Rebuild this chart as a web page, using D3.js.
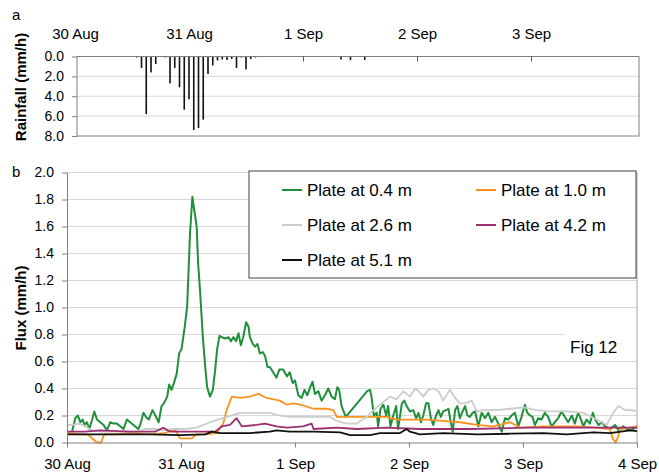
<!DOCTYPE html>
<html>
<head>
<meta charset="utf-8">
<script src="https://cdn.jsdelivr.net/npm/d3@7"></script>
<style>
  body { margin: 0; background: #fff; }
  text { font-family: Arial, "Liberation Sans", sans-serif; fill: #000; }
</style>
</head>
<body>
<div id="chart"></div>
<script>

// day ticks shared by both panels
var dayLabels = ["30 Aug", "31 Aug", "1 Sep", "2 Sep", "3 Sep", "4 Sep"];
var rainTicks = [0, 2, 4, 6, 8];
var fluxTicks = [0, 0.2, 0.4, 0.6, 0.8, 1.0, 1.2, 1.4, 1.6, 1.8, 2.0];

// hourly rainfall, [hours after 30 Aug 00:00, mm/h]
var rainfall = [
    [8, 0.05], [9, 0.05], [10, 0.05], [11, 0.05], [13, 0.1], [14, 1.15], [15, 5.8],
    [16, 1.6], [17, 0.75], [19, 0.1], [20, 2.7], [21, 1.15], [22, 3.1], [23, 5.35],
    [24, 4.3], [25, 7.4], [26, 7.2], [27, 6.35], [28, 1.75], [29, 0.9], [30, 0.4],
    [31, 0.3], [32, 0.35], [33, 0.25], [34, 1.15], [35, 0.1], [36, 1.3], [37, 0.25],
    [38, 0.1], [54, 0.05], [56, 0.3], [58, 0.35], [60, 0.05], [61, 0.35]
];

// drainage flux per plate, [hours after 30 Aug 00:00, mm/h]
var plate04 = [
    [1.05, 0.08], [1.75, 0.18], [2.3, 0.20], [2.8, 0.15], [3.3, 0.17], [3.7, 0.13], [4.2, 0.15],
    [4.7, 0.10], [5.3, 0.17], [5.75, 0.23], [6.3, 0.17], [7.0, 0.15], [7.7, 0.13], [8.4, 0.09],
    [9.1, 0.15], [9.8, 0.14], [10.5, 0.14], [11.2, 0.12], [11.9, 0.10], [12.6, 0.17], [13.3, 0.15],
    [14.0, 0.13], [15.0, 0.10], [15.4, 0.13], [16.1, 0.22], [16.6, 0.19], [17.2, 0.17], [18.0, 0.24],
    [18.6, 0.20], [19.3, 0.15], [19.9, 0.27], [20.4, 0.29], [21.1, 0.34], [21.5, 0.43], [22.0, 0.39],
    [22.5, 0.44], [23.1, 0.51], [23.6, 0.66], [24.1, 0.69], [24.8, 0.86], [25.3, 1.01], [25.9, 1.55],
    [26.4, 1.82], [26.8, 1.72], [27.3, 1.60], [27.6, 1.33], [28.0, 1.13], [28.6, 0.78], [29.1, 0.56],
    [29.5, 0.41], [30.1, 0.34], [30.7, 0.39], [31.2, 0.54], [31.6, 0.69], [32.1, 0.79], [32.6, 0.78],
    [33.3, 0.77], [34.0, 0.78], [34.5, 0.75], [35.0, 0.78], [35.6, 0.75], [36.1, 0.81], [36.6, 0.72],
    [37.1, 0.78], [37.7, 0.89], [38.2, 0.86], [38.5, 0.78], [39.1, 0.73], [39.6, 0.71], [40.1, 0.73],
    [40.6, 0.66], [41.2, 0.67], [41.7, 0.64], [42.2, 0.56], [42.7, 0.56], [43.4, 0.52], [44.1, 0.48],
    [44.7, 0.54], [45.5, 0.54], [46.3, 0.49], [46.9, 0.52], [47.5, 0.44], [48.0, 0.46], [48.7, 0.35],
    [49.4, 0.33], [50.0, 0.39], [50.6, 0.35], [51.2, 0.41], [51.7, 0.45], [52.2, 0.36], [52.9, 0.38],
    [53.6, 0.31], [54.3, 0.35], [55.0, 0.40], [55.7, 0.34], [56.4, 0.32], [56.9, 0.41], [57.3, 0.39],
    [57.8, 0.27], [58.7, 0.19], [63.2, 0.38], [63.8, 0.39], [64.1, 0.34], [64.6, 0.20], [65.2, 0.22],
    [65.5, 0.12], [66.0, 0.25], [66.6, 0.28], [67.2, 0.20], [67.6, 0.27], [68.1, 0.12], [68.7, 0.20],
    [69.3, 0.27], [69.7, 0.10], [70.5, 0.29], [71.0, 0.31], [71.5, 0.27], [72.2, 0.23], [72.9, 0.24],
    [73.5, 0.18], [74.0, 0.22], [74.5, 0.15], [75.0, 0.20], [75.6, 0.29], [76.1, 0.29], [76.6, 0.18],
    [77.1, 0.13], [77.7, 0.20], [78.2, 0.24], [78.7, 0.19], [79.2, 0.23], [79.8, 0.24], [80.3, 0.25],
    [80.8, 0.15], [81.2, 0.08], [81.7, 0.24], [82.2, 0.27], [82.7, 0.18], [83.3, 0.23], [83.8, 0.27],
    [84.3, 0.20], [84.8, 0.19], [85.4, 0.22], [85.9, 0.23], [86.6, 0.12], [87.3, 0.22], [88.0, 0.18],
    [88.7, 0.22], [89.4, 0.15], [90.1, 0.19], [90.8, 0.14], [91.5, 0.08], [92.2, 0.18], [92.9, 0.17],
    [93.6, 0.20], [94.3, 0.22], [95.0, 0.12], [95.7, 0.19], [96.4, 0.28], [96.9, 0.22], [97.5, 0.20],
    [98.0, 0.19], [98.5, 0.13], [99.2, 0.18], [99.9, 0.17], [100.6, 0.22], [101.3, 0.19], [102.0, 0.12],
    [102.7, 0.15], [103.4, 0.18], [104.1, 0.23], [104.8, 0.19], [105.5, 0.15], [106.3, 0.20], [106.9, 0.14],
    [107.6, 0.22], [108.1, 0.18], [108.7, 0.12], [109.4, 0.17], [110.1, 0.14], [110.7, 0.22], [111.2, 0.17],
    [111.9, 0.13], [112.6, 0.15], [113.3, 0.12], [114.3, 0.10], [115.4, 0.13], [116.1, 0.09], [117.1, 0.12],
    [118.2, 0.09], [119.2, 0.10], [120, 0.12]
];

var plate10 = [
    [0, 0.07], [2.7, 0.06], [4.4, 0.06], [5.3, 0.03], [6.3, 0.0], [7.2, 0.0], [7.8, 0.06], [10.1, 0.06],
    [13.3, 0.07], [17.5, 0.06], [20.6, 0.07], [22.7, 0.10], [23.8, 0.03], [25.1, 0.03], [26.3, 0.03],
    [27.2, 0.06], [29.1, 0.06], [31.5, 0.07], [32.9, 0.14], [33.6, 0.24], [34.7, 0.34], [36.4, 0.33],
    [38.5, 0.34], [40.3, 0.36], [42.0, 0.33], [44.8, 0.31], [46.3, 0.28], [47.6, 0.29], [49.1, 0.28],
    [51.9, 0.25], [54.7, 0.25], [56.1, 0.24], [56.8, 0.19], [57.5, 0.19], [63.8, 0.19], [67.3, 0.19],
    [69.4, 0.17], [72.2, 0.17], [75.7, 0.17], [79.2, 0.16], [82.7, 0.15], [86.3, 0.13], [89.7, 0.12],
    [93.3, 0.15], [95.4, 0.11], [100.3, 0.12], [103.8, 0.12], [107.3, 0.12], [111.5, 0.11], [114.3, 0.10],
    [114.9, 0.03], [115.5, 0.0], [116.0, 0.04], [116.4, 0.10], [118.5, 0.11], [120, 0.12]
];

var plate26 = [
    [0, 0.13], [1.1, 0.13], [2.5, 0.14], [3.8, 0.12], [5.3, 0.09], [6.9, 0.08], [11.2, 0.08], [15.1, 0.08],
    [16.4, 0.10], [18.5, 0.10], [20.0, 0.09], [22.1, 0.10], [24.8, 0.10], [27.3, 0.11], [30.1, 0.15],
    [33.6, 0.19], [36.4, 0.22], [40.6, 0.22], [42.7, 0.22], [44.8, 0.20], [46.9, 0.19], [51.9, 0.19],
    [55.4, 0.19], [56.8, 0.16], [58.9, 0.14], [61.0, 0.14], [63.1, 0.19], [64.5, 0.24], [65.9, 0.28],
    [68.0, 0.34], [69.4, 0.32], [70.8, 0.38], [72.2, 0.34], [73.3, 0.40], [74.0, 0.38], [75.0, 0.34],
    [76.1, 0.39], [77.1, 0.40], [78.2, 0.38], [79.2, 0.31], [80.6, 0.39], [81.7, 0.33], [82.7, 0.29],
    [83.8, 0.29], [85.2, 0.31], [86.3, 0.23], [87.6, 0.24], [90.5, 0.24], [93.3, 0.25], [96.1, 0.26],
    [98.9, 0.24], [101.7, 0.23], [105.2, 0.23], [108.7, 0.22], [111.5, 0.17], [113.6, 0.13], [115.0, 0.22],
    [116.1, 0.27], [117.5, 0.24], [118.9, 0.24], [120, 0.23]
];

var plate42 = [
    [0, 0.08], [3.8, 0.08], [6.9, 0.09], [13.3, 0.08], [18.5, 0.08], [20.3, 0.11], [21.7, 0.08],
    [28.0, 0.08], [31.2, 0.08], [32.6, 0.12], [34.3, 0.13], [35.7, 0.18], [36.8, 0.12], [39.9, 0.13],
    [41.7, 0.14], [44.1, 0.12], [46.3, 0.11], [49.7, 0.12], [51.5, 0.14], [51.9, 0.10], [56.8, 0.11],
    [61.0, 0.10], [67.3, 0.11], [74.3, 0.10], [84.8, 0.10], [96.8, 0.11], [108.0, 0.11], [120, 0.11]
];

var plate51 = [
    [0, 0.06], [6.9, 0.06], [17.5, 0.06], [23.8, 0.055], [29.1, 0.06], [30.5, 0.08], [32.2, 0.07],
    [38.5, 0.07], [42.7, 0.08], [44.1, 0.09], [46.9, 0.08], [51.9, 0.08], [57.5, 0.075], [59.6, 0.055],
    [63.8, 0.055], [65.9, 0.07], [70.1, 0.07], [71.5, 0.10], [72.2, 0.08], [74.3, 0.06], [79.2, 0.07],
    [86.3, 0.06], [93.3, 0.065], [100.3, 0.07], [105.2, 0.06], [110.8, 0.075], [114.3, 0.07],
    [118.5, 0.09], [120, 0.085]
];

var seriesNames = ["Plate at 0.4 m", "Plate at 1.0 m", "Plate at 2.6 m", "Plate at 4.2 m", "Plate at 5.1 m"];
var seriesData = [plate04, plate10, plate26, plate42, plate51];
var seriesColors = ["#1f8f3c", "#f7931e", "#cccccc", "#9c2f72", "#111111"];

var width = 659, height = 474;
var gridColor = "#d9d9d9", axisColor = "#7f7f7f";

var startDate = new Date(2003, 7, 30);
function toDate(h) { return new Date(startDate.getTime() + h * 36e5); }
var endDate = toDate(120);

var svg = d3.select("#chart").append("svg")
    .attr("width", width)
    .attr("height", height);

// ---------- panel a : rainfall ----------

var rainFrame = {left: 77, right: 639, top: 56.5, bottom: 136};

var xRain = d3.scaleTime().domain([startDate, endDate]).range([75, 645]);
var yRain = d3.scaleLinear().domain([0, 8]).range([rainFrame.top, rainFrame.bottom]);

svg.append("g").selectAll("line")
    .data(rainTicks.slice(1, -1))
    .enter().append("line")
    .attr("x1", rainFrame.left).attr("x2", rainFrame.right)
    .attr("y1", function(d) { return yRain(d); })
    .attr("y2", function(d) { return yRain(d); })
    .attr("stroke", gridColor);

svg.append("g").selectAll("rect")
    .data(rainfall)
    .enter().append("rect")
    .attr("x", function(d) { return xRain(toDate(d[0])) - 0.8; })
    .attr("y", yRain(0))
    .attr("width", 1.6)
    .attr("height", function(d) { return yRain(d[1]) - yRain(0); })
    .attr("fill", "#111");

svg.append("rect")
    .attr("x", rainFrame.left).attr("y", rainFrame.top)
    .attr("width", rainFrame.right - rainFrame.left)
    .attr("height", rainFrame.bottom - rainFrame.top)
    .attr("fill", "none").attr("stroke", axisColor);

var days = d3.timeDay.range(startDate, toDate(121));

var rainXAxis = svg.append("g")
    .attr("transform", "translate(0," + rainFrame.top + ")")
    .call(d3.axisTop(xRain).tickValues(days.slice(0, 5))
        .tickSize(-5).tickPadding(18).tickSizeOuter(0)
        .tickFormat(function(d, i) { return dayLabels[i]; }));
rainXAxis.select(".domain").remove();
rainXAxis.selectAll(".tick line").attr("stroke", "#555")
    .filter(function(d, i) { return i === 0; }).remove();
rainXAxis.selectAll("text").attr("font-size", 15).attr("font-family", null);

var rainYAxis = svg.append("g")
    .attr("transform", "translate(" + rainFrame.left + ",0)")
    .call(d3.axisLeft(yRain).tickValues(rainTicks).tickSize(5).tickPadding(8)
        .tickSizeOuter(0).tickFormat(d3.format(".1f")));
rainYAxis.select(".domain").remove();
rainYAxis.selectAll(".tick line").attr("stroke", axisColor);
rainYAxis.selectAll("text").attr("font-size", 14).attr("font-family", null);

svg.append("text")
    .attr("transform", "translate(26,87) rotate(-90)")
    .attr("text-anchor", "middle")
    .attr("font-size", 15).attr("font-weight", "bold")
    .text("Rainfall (mm/h)");

svg.append("text").attr("x", 12).attr("y", 20).attr("font-size", 15).text("a");

// ---------- panel b : flux ----------

var fluxFrame = {left: 67, right: 637, top: 172.5, bottom: 442.5};

var x = d3.scaleTime().domain([startDate, endDate]).range([fluxFrame.left, fluxFrame.right]);
var y = d3.scaleLinear().domain([0, 2]).range([fluxFrame.bottom, fluxFrame.top]);

svg.append("g").selectAll("line")
    .data(fluxTicks.slice(1))
    .enter().append("line")
    .attr("x1", fluxFrame.left).attr("x2", fluxFrame.right)
    .attr("y1", function(d) { return y(d); })
    .attr("y2", function(d) { return y(d); })
    .attr("stroke", gridColor);

svg.append("line")
    .attr("x1", fluxFrame.right).attr("x2", fluxFrame.right)
    .attr("y1", fluxFrame.top).attr("y2", fluxFrame.bottom)
    .attr("stroke", "#a6a6a6");

// label box sits over the grid, under the lines
svg.append("rect")
    .attr("x", 565).attr("y", 322).attr("width", 71).attr("height", 35)
    .attr("fill", "#fff");
svg.append("text").attr("x", 570).attr("y", 353).attr("font-size", 17).text("Fig 12");

var line = d3.line()
    .x(function(d) { return x(toDate(d[0])); })
    .y(function(d) { return y(d[1]); });

svg.append("g").selectAll("path")
    .data(seriesData)
    .enter().append("path")
    .attr("d", line)
    .attr("fill", "none")
    .attr("stroke", function(d, i) { return seriesColors[i]; })
    .attr("stroke-width", function(d, i) { return i === 0 ? 2 : 1.8; })
    .attr("stroke-linejoin", "round");

var fluxXAxis = svg.append("g")
    .attr("transform", "translate(0," + fluxFrame.bottom + ")")
    .call(d3.axisBottom(x).tickValues(days).tickSize(5).tickPadding(11)
        .tickSizeOuter(0).tickFormat(function(d, i) { return dayLabels[i]; }));
fluxXAxis.select(".domain").attr("stroke", axisColor);
fluxXAxis.selectAll(".tick line").attr("stroke", axisColor);
fluxXAxis.selectAll("text").attr("font-size", 15).attr("font-family", null);

var fluxYAxis = svg.append("g")
    .attr("transform", "translate(" + fluxFrame.left + ",0)")
    .call(d3.axisLeft(y).tickValues(fluxTicks).tickSize(5).tickPadding(8)
        .tickSizeOuter(0).tickFormat(d3.format(".1f")));
fluxYAxis.select(".domain").attr("stroke", axisColor);
fluxYAxis.selectAll(".tick line").attr("stroke", axisColor);
fluxYAxis.selectAll("text").attr("font-size", 14).attr("font-family", null);

svg.append("text")
    .attr("transform", "translate(26,308) rotate(-90)")
    .attr("text-anchor", "middle")
    .attr("font-size", 15).attr("font-weight", "bold")
    .text("Flux (mm/h)");

svg.append("text").attr("x", 12).attr("y", 177).attr("font-size", 15).text("b");

// legend
var legend = svg.append("g");

legend.append("rect")
    .attr("x", 249).attr("y", 171).attr("width", 387).attr("height", 107)
    .attr("fill", "#fff").attr("stroke", "#404040");

var item = legend.selectAll("g.item")
    .data(seriesNames)
    .enter().append("g")
    .attr("class", "item")
    .attr("transform", function(d, i) {
        return "translate(" + (282 + (i % 2) * 194) + "," + (190 + Math.floor(i / 2) * 35) + ")";
    });

item.append("line")
    .attr("x1", 0).attr("x2", 20)
    .attr("stroke", function(d, i) { return seriesColors[i]; })
    .attr("stroke-width", 2);

item.append("text")
    .attr("x", 25).attr("y", 6)
    .attr("font-size", 17)
    .text(function(d) { return d; });

</script>
</body>
</html>
